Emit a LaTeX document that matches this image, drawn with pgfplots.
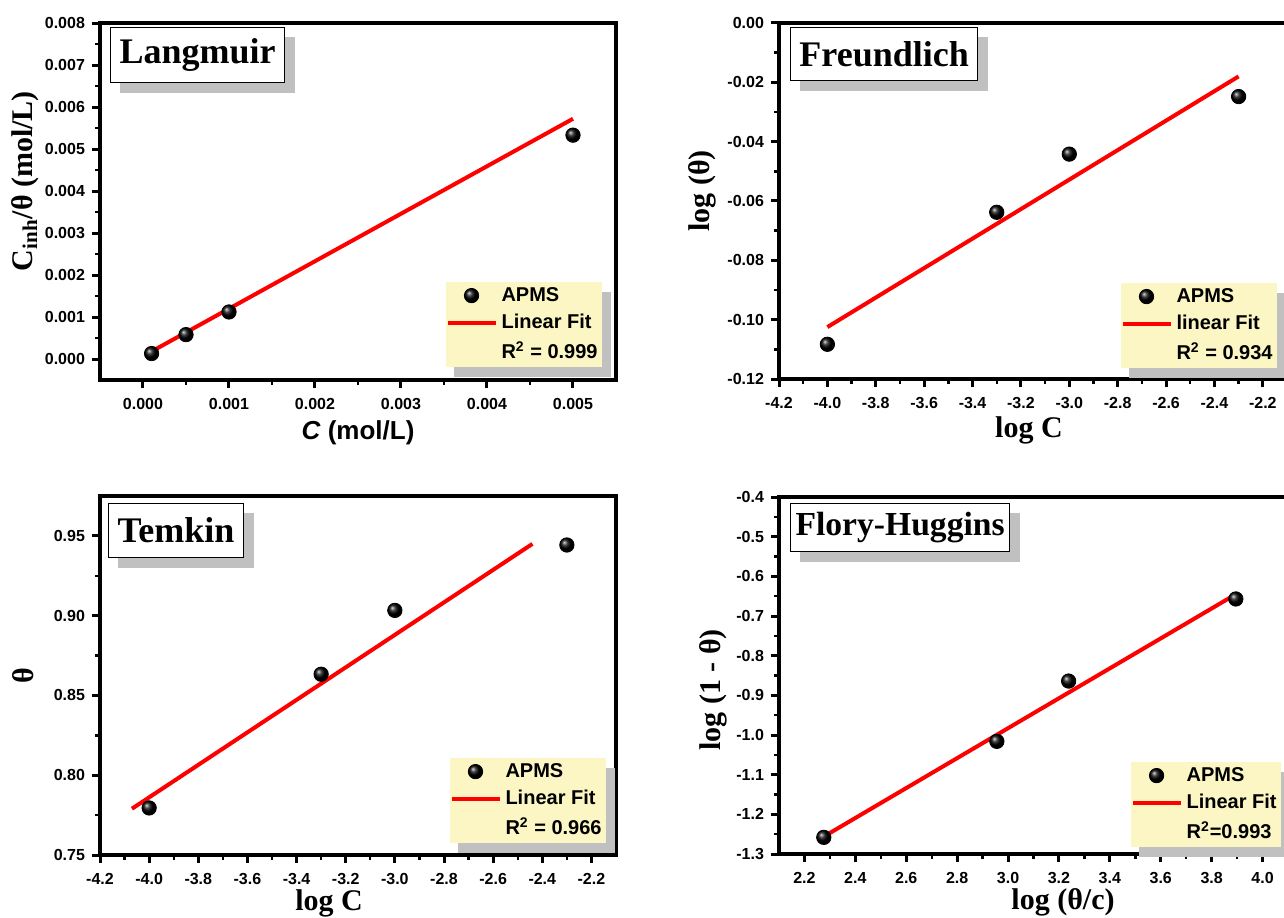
\documentclass[border=0pt]{standalone}
\usepackage{fontspec}
\setmainfont{Liberation Serif}
\setsansfont{Liberation Sans}
\usepackage{pgfplots}
\pgfplotsset{compat=1.18}
\definecolor{legyellow}{RGB}{252,246,196}
\definecolor{shadowgray}{RGB}{192,192,192}
\pgfplotsset{
  panel/.style={
    scale only axis,
    axis line style={line width=2pt,black},
    tick align=outside,
    xtick pos=bottom, ytick pos=left,
    major tick length=4pt, minor tick length=2.5pt,
    major tick style={line width=1.5pt,black},
    minor tick style={line width=1.2pt,black},
    minor x tick num=1, minor y tick num=1,
    scaled x ticks=false, scaled y ticks=false,
    /pgf/number format/assume math mode=true,
    /pgf/number format/fixed,
    /pgf/number format/fixed zerofill,
    tick label style={font=\sffamily\bfseries\fontsize{8}{9}\selectfont},
    xticklabel style={yshift=-1.5pt},
    label style={font=\rmfamily\bfseries\fontsize{15}{17}\selectfont},
    xlabel style={anchor=center},
    ylabel style={anchor=center},
    legend cell align=left,
    legend image code/.code={\draw[mark repeat=2,mark phase=2,##1] plot coordinates {(0pt,0pt) (12pt,0pt) (24pt,0pt)};},
    legend style={fill=legyellow, draw=none, inner xsep=0pt, inner ysep=0.5pt, row sep=1pt,
       font=\sffamily\bfseries\fontsize{10}{11}\selectfont,
       anchor=south east},
  },
  pts/.style={only marks, mark=ball, mark options={ball color=black}, mark size=3.6pt},
  fit/.style={no marks, red, line width=2pt},
}
\tikzset{title box/.style={draw=black, line width=0.6pt, fill=white,
  font=\rmfamily\bfseries\fontsize{18}{20}\selectfont, anchor=north west, inner sep=0pt}}
\newcommand{\legshadow}[1]{%
  \fill[shadowgray] ([xshift=4.5pt]#1.south west) rectangle ([xshift=4.5pt,yshift=-5pt]#1.south east);
  \fill[shadowgray] ([yshift=-5pt]#1.north east) rectangle ([xshift=4.5pt,yshift=-5pt]#1.south east);}
\newcommand{\titleshadow}[1]{%
  \fill[shadowgray] ([xshift=5pt]#1.south west) rectangle ([xshift=5pt,yshift=-5pt]#1.south east);
  \fill[shadowgray] ([yshift=-5pt]#1.north east) rectangle ([xshift=5pt,yshift=-5pt]#1.south east);}
\begin{document}
\begin{tikzpicture}
\useasboundingbox (0,0) rectangle (642pt,458.5pt);
\clip (0,0) rectangle (642pt,458.5pt);

% Langmuir
\begin{axis}[panel, at={(50pt,268.5pt)}, anchor=south west, width=258pt, height=178.5pt,
  xmin=-0.0005, xmax=0.0055, ymin=-0.0005, ymax=0.008,
  xtick={0,0.001,0.002,0.003,0.004,0.005},
  ytick={0,0.001,0.002,0.003,0.004,0.005,0.006,0.007,0.008},
  /pgf/number format/precision=3,
  xlabel={\textit{C} (mol/L)},
  xlabel style={at={(axis description cs:0.5,-0.148)}, font=\sffamily\bfseries\fontsize{13}{15}\selectfont},
  ylabel={C\textsubscript{inh}/θ (mol/L)},
  ylabel style={at={(axis description cs:-0.145,0.557)}},
  legend style={at={(0.9729,0.0364)}, name=legA}]
\addplot[pts] coordinates {(0.0001,0.00013) (0.0005,0.00058) (0.001,0.00112) (0.005,0.00533)};
\addlegendentry{APMS}
\addplot[fit] coordinates {(0.0001,0.00018) (0.005,0.00572)};
\addlegendentry{Linear Fit}
\addlegendimage{empty legend}
\addlegendentry{R\textsuperscript{2} = 0.999}
\node[title box, minimum width=87pt, minimum height=27.5pt] (tA) at (rel axis cs:0.0194,0.9888) {Langmuir};
\end{axis}
\legshadow{legA}\titleshadow{tA}

% Freundlich
\begin{axis}[panel, at={(389.5pt,269pt)}, anchor=south west, width=254pt, height=178pt,
  xmin=-4.2, xmax=-2.1, ymin=-0.12, ymax=0,
  xtick={-4.2,-4.0,-3.8,-3.6,-3.4,-3.2,-3.0,-2.8,-2.6,-2.4,-2.2},
  ytick={-0.12,-0.10,-0.08,-0.06,-0.04,-0.02,0},
  xticklabel style={/pgf/number format/precision=1},
  yticklabel style={/pgf/number format/precision=2},
  xlabel={log C},
  xlabel style={at={(axis description cs:0.492,-0.143)}},
  ylabel={log (θ)},
  ylabel style={at={(axis description cs:-0.15,0.528)}},
  legend style={at={(0.9803,0.031)}, name=legB}]
\addplot[pts] coordinates {(-4.0,-0.1083) (-3.3,-0.0638) (-3.0,-0.0442) (-2.3,-0.0248)};
\addlegendentry{APMS}
\addplot[fit] coordinates {(-4.0,-0.1025) (-2.3,-0.0180)};
\addlegendentry{linear Fit}
\addlegendimage{empty legend}
\addlegendentry{R\textsuperscript{2} = 0.934}
\node[title box, minimum width=93.5pt, minimum height=26.5pt] (tB) at (rel axis cs:0.0217,0.9888) {Freundlich};
\end{axis}
\legshadow{legB}\titleshadow{tB}

% Temkin
\begin{axis}[panel, at={(50pt,31pt)}, anchor=south west, width=258pt, height=179.5pt,
  xmin=-4.2, xmax=-2.1, ymin=0.75, ymax=0.975,
  xtick={-4.2,-4.0,-3.8,-3.6,-3.4,-3.2,-3.0,-2.8,-2.6,-2.4,-2.2},
  ytick={0.75,0.80,0.85,0.90,0.95},
  xticklabel style={/pgf/number format/precision=1},
  yticklabel style={/pgf/number format/precision=2},
  xlabel={log C},
  xlabel style={at={(axis description cs:0.444,-0.095)}, anchor=north, inner sep=0pt},
  ylabel={θ},
  ylabel style={at={(axis description cs:-0.149,0.50)}},
  legend style={at={(0.9806,0.0334)}, name=legC}]
\addplot[pts] coordinates {(-4.0,0.7795) (-3.3,0.8633) (-3.0,0.9033) (-2.3,0.9443)};
\addlegendentry{APMS}
\addplot[fit] coordinates {(-4.07,0.779) (-2.44,0.945)};
\addlegendentry{Linear Fit}
\addlegendimage{empty legend}
\addlegendentry{R\textsuperscript{2} = 0.966}
\node[title box, minimum width=67.5pt, minimum height=27pt] (tC) at (rel axis cs:0.0155,0.9805) {Temkin};
\end{axis}
\legshadow{legC}\titleshadow{tC}

% Flory-Huggins
\begin{axis}[panel, at={(389.5pt,31.5pt)}, anchor=south west, width=254.5pt, height=178.5pt,
  xmin=2.1, xmax=4.1, ymin=-1.3, ymax=-0.4,
  xtick={2.2,2.4,2.6,2.8,3.0,3.2,3.4,3.6,3.8,4.0},
  ytick={-1.3,-1.2,-1.1,-1.0,-0.9,-0.8,-0.7,-0.6,-0.5,-0.4},
  /pgf/number format/precision=1,
  xlabel={log (θ/c)},
  xlabel style={at={(axis description cs:0.558,-0.095)}, anchor=north, inner sep=0pt},
  ylabel={log (1 - θ)},
  ylabel style={at={(axis description cs:-0.13,0.46)}},
  legend style={at={(0.9862,0.0196)}, name=legD}]
\addplot[pts] coordinates {(2.276,-1.258) (2.956,-1.016) (3.238,-0.864) (3.895,-0.657)};
\addlegendentry{APMS}
\addplot[fit] coordinates {(2.276,-1.256) (3.89,-0.647)};
\addlegendentry{Linear Fit}
\addlegendimage{empty legend}
\addlegendentry{R\textsuperscript{2}=0.993}
\node[title box, minimum width=109.5pt, minimum height=24pt, font=\rmfamily\bfseries\fontsize{16.8}{19}\selectfont] (tD) at (rel axis cs:0.0216,0.9832) {Flory-Huggins};
\end{axis}
\legshadow{legD}\titleshadow{tD}
\end{tikzpicture}
\end{document}
